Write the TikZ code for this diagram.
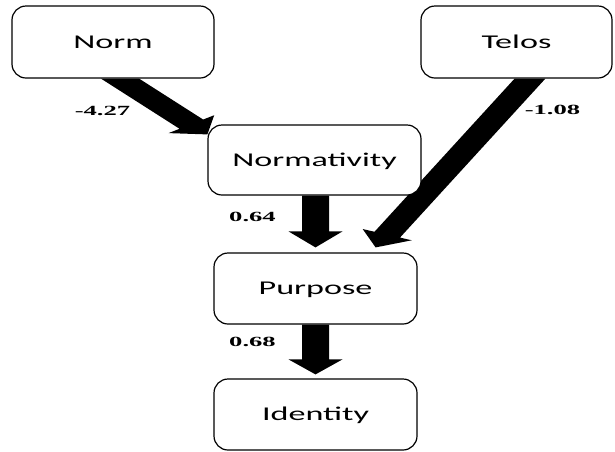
\documentclass[tikz,border=0pt]{standalone}
\usepackage{fontspec}
\usetikzlibrary{calc,backgrounds}
\newfontfamily\boxfont[FakeStretch=1.75]{Carlito}
\newfontfamily\coeffont[FakeStretch=1.9]{Liberation Serif}

% Block arrow drawn as one filled polygon, widths measured in the
% unstretched frame (x halved) so the head stays square to the shaft.
% #1 start, #2 tip, #3 shaft half-width, #4 head half-width, #5 head length
\newcommand\blockarrow[5]{%
  \fill[arrowink] let \p1=(#1), \p2=(#2),
    \n1={atan2(\y2-\y1,(\x2-\x1)/2)},
    \n2={sin(\n1)}, \n3={cos(\n1)}
  in ({\x1-2*#3/(\n2)},\y1)
  -- ({\x2+2*(-#5*(\n3)-#3*(\n2))},{\y2-#5*(\n2)+#3*(\n3)})
  -- ({\x2+2*(-#5*(\n3)-#4*(\n2))},{\y2-#5*(\n2)+#4*(\n3)})
  -- (\x2,\y2)
  -- ({\x2+2*(-#5*(\n3)+#4*(\n2))},{\y2-#5*(\n2)-#4*(\n3)})
  -- ({\x2+2*(-#5*(\n3)+#3*(\n2))},{\y2-#5*(\n2)-#3*(\n3)})
  -- ({\x1+2*#3/(\n2)},\y1) -- cycle;}

\begin{document}
\begin{tikzpicture}[x=1pt,y=1pt,
  concept/.style={draw=black, line width=1.2pt, fill=white, rounded corners=14pt,
    inner sep=0pt, text height=12.5pt, text depth=0pt,
    font=\boxfont\fontsize{19.5}{19.5}\selectfont},
  coef/.style={inner sep=0pt, font=\coeffont\bfseries\fontsize{14}{14}\selectfont},
  arrowink/.style={fill=black}]
\useasboundingbox (0,0) rectangle (615,-451);

% boxes
\node[concept, minimum width=202pt, minimum height=72pt] (norm) at (113,-42) {Norm};
\node[concept, minimum width=191pt, minimum height=72pt] (telos) at (516.5,-42) {Telos};
\node[concept, minimum width=213pt, minimum height=70pt] (normativity) at (314.5,-160) {Normativity};
\node[concept, minimum width=203pt, minimum height=71pt] (purpose) at (315.5,-288.5) {Purpose};
\node[concept, minimum width=203pt, minimum height=71pt] (identity) at (315.5,-414.5) {Identity};

% arrow ends
\coordinate (a1s) at ($(norm.south)+(7,0)$);
\coordinate (a1t) at ($(normativity.north west)+(0,-10)$);
\coordinate (a2s) at ($(telos.south)+(13.5,0)$);
\coordinate (a2t) at ($(purpose.north east)+(-42,5)$);
\coordinate (a3s) at (purpose.north |- normativity.south);
\coordinate (a3t) at ($(purpose.north)+(0,5)$);
\coordinate (a4s) at (purpose.south);
\coordinate (a4t) at ($(identity.north)+(0,4)$);

% block arrows, kept behind the boxes
\begin{pgfonlayer}{background}
\blockarrow{a1s}{a1t}{7.5}{14.5}{13}
\blockarrow{a2s}{a2t}{7}{13.5}{14}
\blockarrow{a3s}{a3t}{6.75}{13.5}{16}
\blockarrow{a4s}{a4t}{6.75}{13.5}{15}
\end{pgfonlayer}

% path coefficients
\node[coef] (c1) at (102.5,-110.5) {-4.27};
\node[coef] (c2) at (552.5,-110) {-1.08};
\node[coef] (c3) at (252.5,-216.5) {0.64};
\node[coef] (c4) at (252.5,-341.5) {0.68};
\end{tikzpicture}
\end{document}
